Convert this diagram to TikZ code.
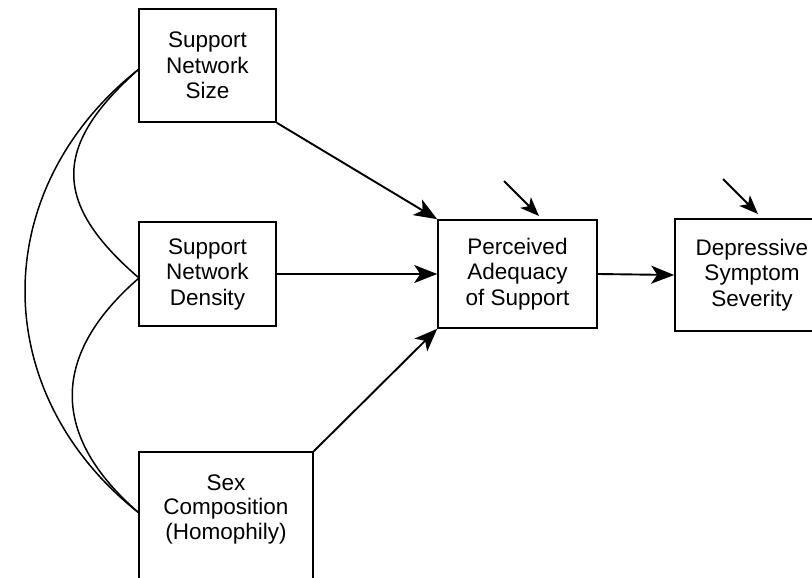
\documentclass[tikz,border=0pt]{standalone}
\usepackage{fontspec}
\setmainfont{Liberation Sans}
\usetikzlibrary{arrows.meta}
\begin{document}
\begin{tikzpicture}[x=1pt,y=-1pt,
  box/.style={draw,line width=1.6pt,align=center,inner sep=0pt,
    font=\fontsize{22.5}{25.5}\selectfont},
  lbl/.style={align=center,inner sep=0pt,font=\fontsize{22.5}{24.5}\selectfont},
  path/.style={line width=1.9pt,-{Stealth[length=23pt,width=18pt,inset=6pt]}},
  err/.style={line width=1.9pt,-{Stealth[length=19pt,width=15pt,inset=5pt]}},
  cov/.style={line width=1.5pt}]
\useasboundingbox (0,0) rectangle (812,578);
\clip (0,0) rectangle (812,578);

% observed variables
\node[box,minimum width=137pt,minimum height=113pt] (size) at (207.5,65.5)
  {Support\\Network\\Size};
\node[box,minimum width=137pt,minimum height=104pt] (density) at (207.5,274)
  {Support\\Network\\Density};
\node[box,minimum width=174pt,minimum height=148pt] (sexbox) at (226,526) {};
\node[lbl] (sex) at (226,509) {Sex\\Composition\\(Homophily)};
\node[box,minimum width=159pt,minimum height=108pt] (perc) at (517.5,274)
  {Perceived\\Adequacy\\of Support};
\node[box,minimum width=154pt,minimum height=112pt] (dep) at (752,275)
  {Depressive\\Symptom\\Severity};

% anchor points of the covariance arcs on the left edges
\coordinate (sizeL) at (139,69);
\coordinate (densL) at (139,278);
\coordinate (sexL) at (139,513);

% covariances among the network measures
\draw[cov] (sizeL) .. controls (-13,189) and (-13,393) .. (sexL);
\draw[cov] (sizeL) .. controls (52,146) and (52,203) .. (densL);
\draw[cov] (densL) .. controls (50,355) and (50,436) .. (sexL);

% structural paths
\draw[path] (size.south east) -- (perc.north west);
\draw[path] (density.east) -- (perc.west);
\draw[path] (sexbox.north east) -- (perc.south west);
\draw[path] (perc.east) -- (dep.west);

% disturbance terms
\coordinate (d1) at (504,181);
\coordinate (d1t) at (539,216);
\coordinate (d2) at (723,179);
\coordinate (d2t) at (758,214);
\draw[err] (d1) -- (d1t);
\draw[err] (d2) -- (d2t);
\end{tikzpicture}
\end{document}
